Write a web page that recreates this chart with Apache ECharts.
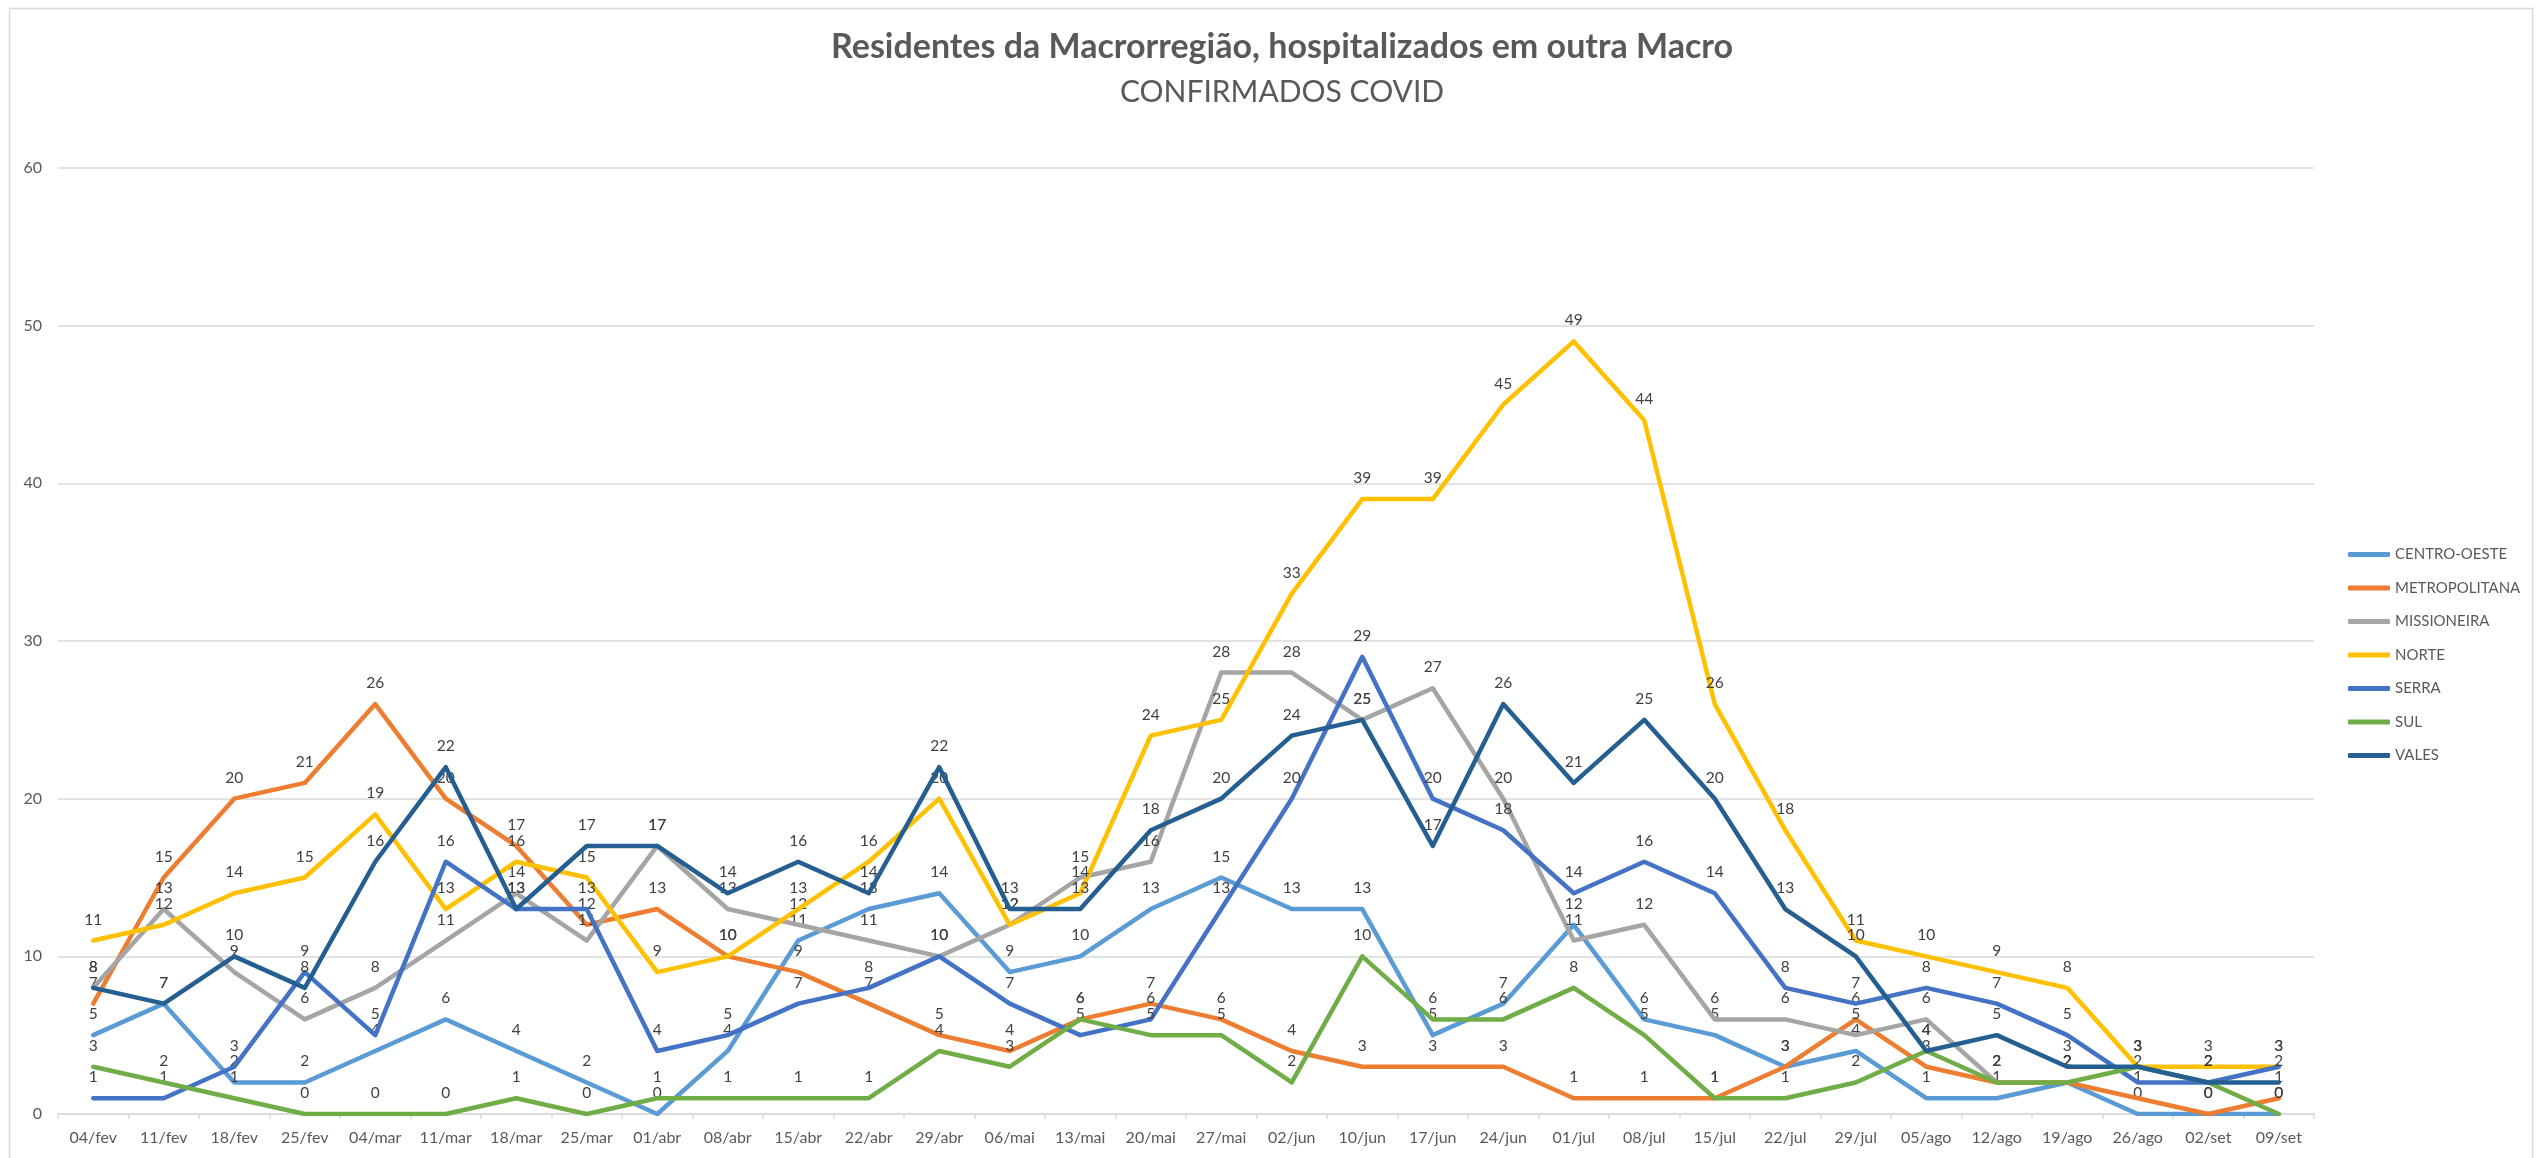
<!DOCTYPE html>
<html>
<head>
<meta charset="utf-8">
<script src="https://cdn.jsdelivr.net/npm/echarts@6/dist/echarts.min.js"></script>
<style>
  html, body { margin: 0; padding: 0; background: #ffffff; }
  #chart { width: 2539px; height: 1158px; }
</style>
</head>
<body>
<div id="chart"></div>
<script>
const titleText = 'Residentes da Macrorregião, hospitalizados em outra Macro';
const subtitleText = 'CONFIRMADOS COVID';

const categories = ['04/fev','11/fev','18/fev','25/fev','04/mar','11/mar','18/mar','25/mar','01/abr','08/abr','15/abr','22/abr','29/abr','06/mai','13/mai','20/mai','27/mai','02/jun','10/jun','17/jun','24/jun','01/jul','08/jul','15/jul','22/jul','29/jul','05/ago','12/ago','19/ago','26/ago','02/set','09/set'];

const yTicks = [0, 10, 20, 30, 40, 50, 60];

const seriesNames = ['CENTRO-OESTE','METROPOLITANA','MISSIONEIRA','NORTE','SERRA','SUL','VALES'];

const centroOeste   = [5,7,2,2,4,6,4,2,0,4,11,13,14,9,10,13,15,13,13,5,7,12,6,5,3,4,1,1,2,0,0,0];
const metropolitana = [7,15,20,21,26,20,17,12,13,10,9,7,5,4,6,7,6,4,3,3,3,1,1,1,3,6,3,2,2,1,0,1];
const missioneira   = [8,13,9,6,8,11,14,11,17,13,12,11,10,12,15,16,28,28,25,27,20,11,12,6,6,5,6,2,null,null,null,null];
const norte         = [11,12,14,15,19,13,16,15,9,10,13,16,20,12,14,24,25,33,39,39,45,49,44,26,18,11,10,9,8,3,3,3];
const serra         = [1,1,3,9,5,16,13,13,4,5,7,8,10,7,5,6,13,20,29,20,18,14,16,14,8,7,8,7,5,2,2,3];
const sul           = [3,2,1,0,0,0,1,0,1,1,1,1,4,3,6,5,5,2,10,6,6,8,5,1,1,2,4,2,2,3,2,0];
const vales         = [8,7,10,8,16,22,13,17,17,14,16,14,22,13,13,18,20,24,25,17,26,21,25,20,13,10,4,5,3,3,2,2];

const seriesData = [centroOeste, metropolitana, missioneira, norte, serra, sul, vales];
const seriesColors = ['#5B9BD5','#ED7D31','#A5A5A5','#FFC000','#4472C4','#70AD47','#255E91'];

const FONT = 'Lato, "Open Sans", "Noto Sans", sans-serif';

const chart = echarts.init(document.getElementById('chart'), null, { renderer: 'canvas' });

const series = seriesNames.map((name, i) => ({
  name: name,
  type: 'line',
  data: seriesData[i],
  color: seriesColors[i],
  showSymbol: true,
  showAllSymbol: true,
  symbol: 'circle',
  symbolSize: 0,
  connectNulls: false,
  lineStyle: { width: 4.5, color: seriesColors[i], cap: 'round', join: 'round' },
  itemStyle: { color: seriesColors[i] },
  label: {
    show: true,
    position: 'top',
    distance: 13,
    fontFamily: FONT,
    fontSize: 15.5,
    color: '#404040'
  },
  emphasis: { disabled: true },
  z: 2 + i
}));

chart.setOption({
  animation: false,
  backgroundColor: '#ffffff',
  title: [
    {
      text: titleText,
      left: 1277,
      top: 25,
      textAlign: 'center',
      textStyle: { fontFamily: FONT, fontWeight: 'bold', fontSize: 34, color: '#595959' }
    },
    {
      text: subtitleText,
      left: 1277,
      top: 72,
      textAlign: 'center',
      textStyle: { fontFamily: FONT, fontWeight: 'normal', fontSize: 30, color: '#595959' }
    }
  ],
  legend: {
    orient: 'vertical',
    left: 2343,
    top: 542,
    itemWidth: 42,
    itemHeight: 5,
    itemGap: 18.5,
    icon: 'roundRect',
    data: seriesNames,
    textStyle: { fontFamily: FONT, fontSize: 15, color: '#595959', lineHeight: 15 }
  },
  grid: { left: 58, right: 225, top: 168, bottom: 44, containLabel: false },
  xAxis: {
    type: 'category',
    data: categories,
    boundaryGap: true,
    axisLine: { show: true, lineStyle: { color: '#d9d9d9', width: 1.5 } },
    axisTick: { show: true, alignWithLabel: false, length: 5, lineStyle: { color: '#d9d9d9', width: 1.5 } },
    axisLabel: { interval: 0, margin: 16, fontFamily: FONT, fontSize: 16, color: '#595959' },
    splitLine: { show: false }
  },
  yAxis: {
    type: 'value',
    min: yTicks[0],
    max: yTicks[yTicks.length - 1],
    interval: yTicks[1] - yTicks[0],
    axisLine: { show: false },
    axisTick: { show: false },
    axisLabel: { margin: 16, fontFamily: FONT, fontSize: 16, color: '#595959' },
    splitLine: { show: true, lineStyle: { color: '#d9d9d9', width: 1.5 } }
  },
  graphic: [
    {
      type: 'rect',
      silent: true,
      z: -10,
      shape: { x: 9.5, y: 8.5, width: 2523, height: 1170 },
      style: { fill: 'none', stroke: '#d9d9d9', lineWidth: 1.5 }
    }
  ],
  series: series
});
</script>
</body>
</html>
